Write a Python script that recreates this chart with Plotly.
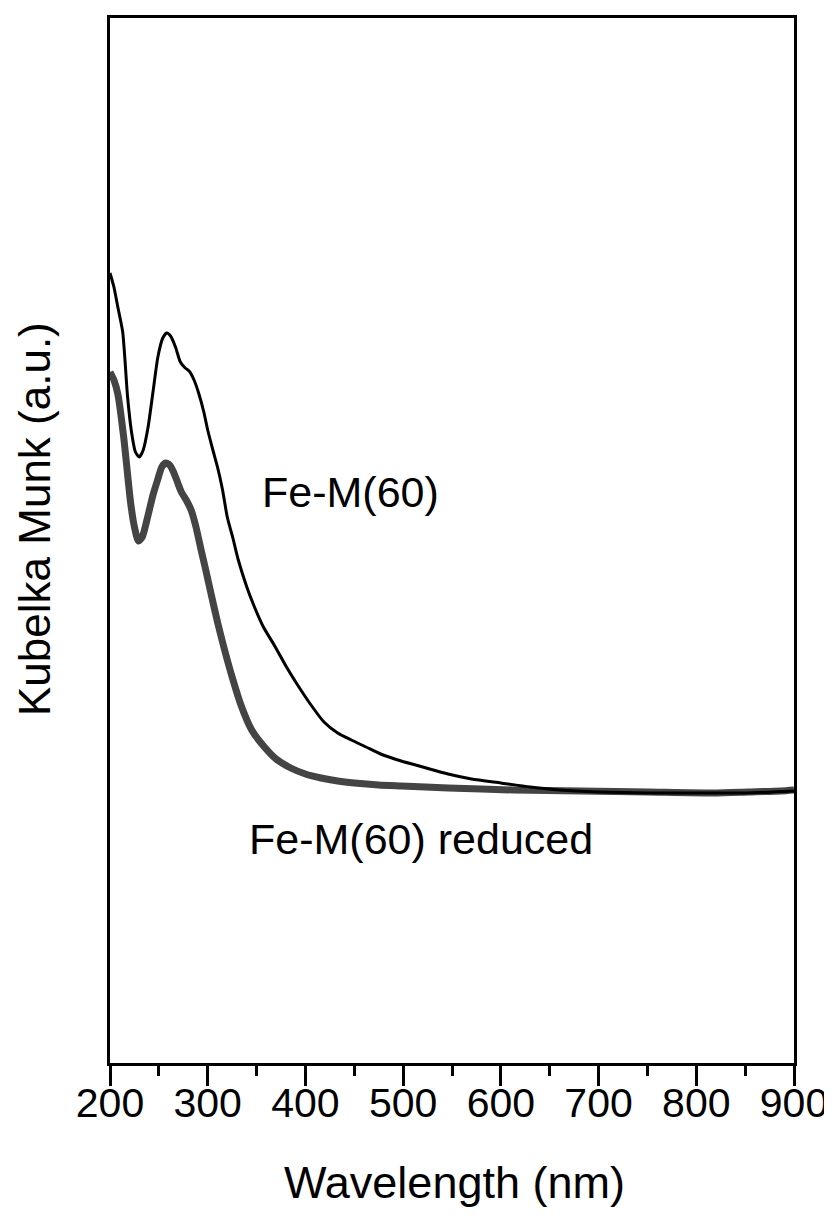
import plotly.graph_objects as go

# Fe-M(60) (thin black curve)
wl_fe = [200, 204, 208, 213, 218, 222, 226, 230, 234, 239, 244, 249, 254, 258, 262, 267, 272, 277,
         281, 286, 291, 296, 300, 305, 310, 315, 320, 326, 331, 340, 347, 357, 368, 380, 392, 405,
         419, 433, 447, 462, 477, 498, 520, 546, 570, 600, 630, 660, 700, 750, 800, 850, 900]
km_fe = [0.790, 0.776, 0.756, 0.731, 0.666, 0.631, 0.611, 0.606, 0.613, 0.636, 0.671, 0.706, 0.725,
         0.730, 0.727, 0.716, 0.701, 0.695, 0.692, 0.683, 0.669, 0.651, 0.633, 0.614, 0.596, 0.574,
         0.546, 0.524, 0.504, 0.476, 0.458, 0.436, 0.418, 0.397, 0.378, 0.359, 0.341, 0.330, 0.323,
         0.316, 0.309, 0.302, 0.296, 0.289, 0.284, 0.280, 0.276, 0.273, 0.271, 0.270, 0.270, 0.270,
         0.272]

# Fe-M(60) reduced (thick grey curve)
wl_red = [200, 204, 208, 214, 221, 225, 229, 233, 239, 244, 249, 253, 257, 261, 265, 269, 273, 278,
          283, 288, 293, 298, 303, 310, 317, 325, 334, 345, 358, 370, 385, 400, 416, 433, 450, 475,
          498, 546, 613, 682, 751, 818, 853, 887, 900]
km_red = [0.691, 0.683, 0.669, 0.626, 0.561, 0.536, 0.522, 0.526, 0.548, 0.568, 0.584, 0.596, 0.600,
          0.598, 0.591, 0.581, 0.571, 0.563, 0.553, 0.536, 0.514, 0.493, 0.471, 0.441, 0.414, 0.386,
          0.358, 0.333, 0.316, 0.304, 0.295, 0.289, 0.285, 0.282, 0.280, 0.278, 0.277, 0.275, 0.273,
          0.272, 0.271, 0.270, 0.271, 0.272, 0.273]

x_ticks = [200, 300, 400, 500, 600, 700, 800, 900]

FONT = "Liberation Sans, Arial, sans-serif"

fig = go.Figure()
fig.add_trace(go.Scatter(x=wl_red, y=km_red, mode="lines",
                         line=dict(color="#444444", width=7, shape="spline", smoothing=0.6),
                         name="Fe-M(60) reduced", showlegend=False))
fig.add_trace(go.Scatter(x=wl_fe, y=km_fe, mode="lines",
                         line=dict(color="black", width=3, shape="spline", smoothing=0.6),
                         name="Fe-M(60)", showlegend=False))

# curve labels
fig.add_annotation(x=446, y=0.571, text="Fe-M(60)", showarrow=False,
                   font=dict(family=FONT, size=43, color="black"), xanchor="center", yanchor="middle")
fig.add_annotation(x=518, y=0.224, text="Fe-M(60) reduced", showarrow=False,
                   font=dict(family=FONT, size=43, color="black"), xanchor="center", yanchor="middle")

# axis titles
fig.add_annotation(xref="paper", yref="paper", x=0.504, y=0, yshift=-119, text="Wavelength (nm)",
                   showarrow=False, font=dict(family=FONT, size=45, color="black"),
                   xanchor="center", yanchor="middle")
fig.add_annotation(xref="paper", yref="paper", x=0, y=0.5206, xshift=-75, text="Kubelka Munk (a.u.)",
                   textangle=-90, showarrow=False, font=dict(family=FONT, size=44, color="black"),
                   xanchor="center", yanchor="middle")

fig.update_layout(
    width=832, height=1219,
    margin=dict(l=102, r=46, t=10, b=164),
    paper_bgcolor="white", plot_bgcolor="white",
    font=dict(family=FONT, color="black"),
    xaxis=dict(
        range=[200, 900], tickvals=x_ticks, ticktext=[str(v) for v in x_ticks],
        ticks="outside", ticklen=20, tickwidth=3, tickcolor="black",
        minor=dict(dtick=50, ticks="outside", ticklen=10, tickwidth=3, tickcolor="black", showgrid=False),
        showline=True, linewidth=3, linecolor="black", mirror=True,
        showgrid=False, zeroline=False, automargin=False,
        ticklabelstandoff=-18,
        tickfont=dict(family=FONT, size=41, color="black"),
    ),
    yaxis=dict(
        range=[0, 1.045], showticklabels=False, ticks="",
        showline=True, linewidth=3, linecolor="black", mirror=True,
        showgrid=False, zeroline=False, automargin=False,
    ),
)

fig.write_html("out.html")
